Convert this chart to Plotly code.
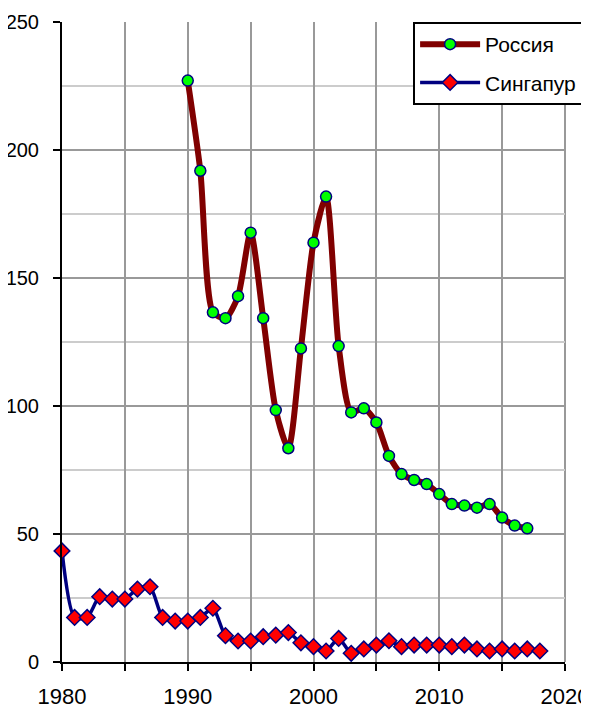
import plotly.graph_objects as go

# Russia: 1990-2017
russia_years = list(range(1990, 2018))
russia_values = [227.1, 191.9, 136.6, 134.3, 142.9, 167.7, 134.3, 98.4, 83.5,
                 122.5, 163.8, 181.8, 123.4, 97.5, 99.1, 93.6, 80.5, 73.4,
                 71.1, 69.5, 65.6, 61.7, 61.1, 60.3, 61.7, 56.4, 53.3, 52.2]

# Singapore: 1980-2018
singapore_years = list(range(1980, 2019))
singapore_values = [43.4, 17.4, 17.4, 25.5, 24.6, 24.6, 28.5, 29.4, 17.4, 16.0,
                    16.0, 17.4, 21.0, 10.3, 8.2, 8.2, 9.9, 10.5, 11.5, 7.5,
                    6.0, 4.3, 9.2, 3.4, 5.1, 6.6, 8.3, 6.0, 6.6, 6.6,
                    6.6, 6.0, 6.6, 5.1, 4.3, 5.1, 4.3, 5.1, 4.3]

x_tickvals = list(range(1980, 2021, 5))
x_ticktext = [str(v) if v % 10 == 0 else "" for v in x_tickvals]
y_tickvals = [0, 50, 100, 150, 200, 250]

font_family = "Liberation Sans, Arial, sans-serif"

fig = go.Figure()

fig.add_trace(go.Scatter(
    x=russia_years, y=russia_values,
    name="Россия", legendgroup="ru",
    mode="lines+markers",
    line=dict(color="#800000", width=6, shape="spline", smoothing=0.7),
    marker=dict(symbol="circle", size=11, color="#00ff00",
                line=dict(color="#000080", width=1.5)),
    cliponaxis=False,
))

fig.add_trace(go.Scatter(
    x=singapore_years, y=singapore_values,
    name="Сингапур", legendgroup="sg",
    mode="lines+markers",
    line=dict(color="#000080", width=3.5, shape="spline", smoothing=0.7),
    marker=dict(symbol="diamond", size=12, color="#ff0000",
                line=dict(color="#000080", width=1.5)),
    cliponaxis=False,
))

# the page body adds an 8px margin, so the figure is 8px smaller each way
fig.update_layout(
    width=581, height=701,
    margin=dict(l=54, r=24, t=14, b=47, autoexpand=False),
    paper_bgcolor="white",
    plot_bgcolor="white",
    font=dict(family=font_family, size=20, color="black"),
    showlegend=True,
    legend=dict(
        x=0.698, y=1.0, xanchor="left", yanchor="top",
        bgcolor="white", bordercolor="black", borderwidth=2,
        font=dict(size=21),
        itemwidth=60,
        tracegroupgap=8,
    ),
)

fig.update_xaxes(
    range=[1980, 2020],
    tickvals=x_tickvals, ticktext=x_ticktext,
    tickfont=dict(size=22),
    ticks="outside", ticklen=7, tickwidth=2, tickcolor="black",
    ticklabelstandoff=7,
    ticklabeloverflow="allow",
    showline=True, linecolor="black", linewidth=2,
    showgrid=True, gridcolor="#999999", gridwidth=2,
    zeroline=False, automargin=False,
)

fig.update_yaxes(
    range=[0, 250],
    tickvals=y_tickvals,
    tickfont=dict(size=20),
    ticks="outside", ticklen=7, tickwidth=2, tickcolor="black",
    ticklabelstandoff=10,
    showline=True, linecolor="black", linewidth=2,
    showgrid=True, gridcolor="#999999", gridwidth=2,
    minor=dict(dtick=25, showgrid=True, gridcolor="#cccccc", gridwidth=2),
    zeroline=False, automargin=False,
)

# right border of the plot area at 2020 (gray like the grid)
fig.add_shape(type="line", xref="paper", yref="paper", x0=1, x1=1, y0=0, y1=1,
              line=dict(color="#999999", width=2), layer="below")

fig.write_html("out.html")
